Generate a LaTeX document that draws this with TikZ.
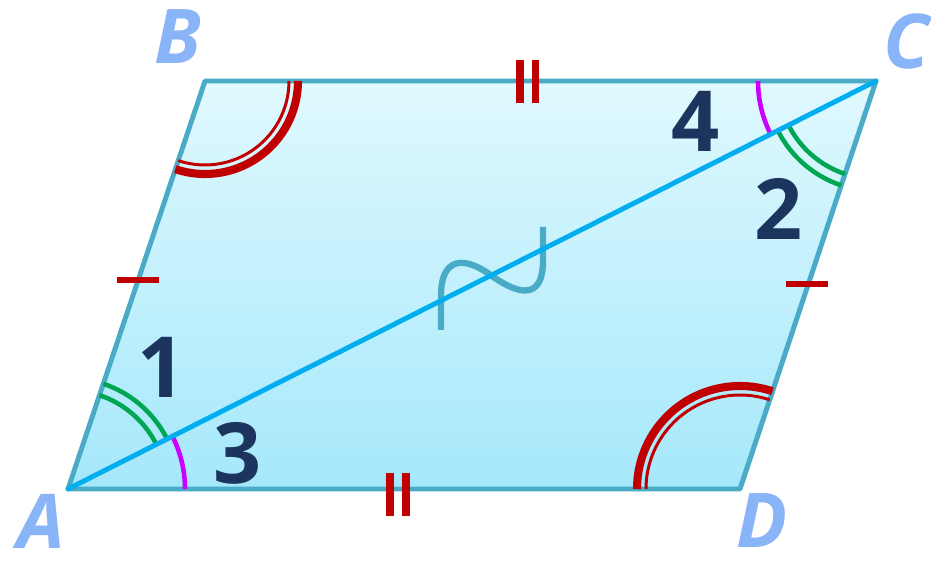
\documentclass[tikz,border=0pt]{standalone}
\usepackage{fontspec}
\newfontfamily\labelfont{Open Sans}
\usetikzlibrary{calc}

\definecolor{edgeblue}{HTML}{4AABC6}
\definecolor{diagblue}{HTML}{00AEEF}
\definecolor{filltop}{HTML}{E0F9FE}
\definecolor{fillbot}{HTML}{A5E8FB}
\definecolor{vertblue}{HTML}{8AB4F8}
\definecolor{numnavy}{HTML}{1C355E}
\definecolor{markred}{HTML}{C00000}
\definecolor{arcgreen}{HTML}{00A651}
\definecolor{arcmagenta}{HTML}{CC00FF}

\begin{document}
\begin{tikzpicture}[
  x=0.02cm, y=0.02cm,
  side/.style={draw=edgeblue, line width=2.8pt, line join=round},
  diag/.style={draw=diagblue, line width=2.8pt, line cap=round},
  simsign/.style={draw=edgeblue, line width=3.6pt},
  vlabel/.style={font=\labelfont\bfseries\itshape\fontsize{43}{43}\selectfont,
                 text=vertblue, inner sep=0pt},
  numlabel/.style={font=\labelfont\bfseries\fontsize{48}{48}\selectfont,
                   text=numnavy, inner sep=0pt},
  tickmark/.style={draw=markred, line width=4pt},
  greenarc/.style={draw=arcgreen, line width=2.6pt},
  pinkarc/.style={draw=arcmagenta, line width=2.6pt},
  thickarc/.style={draw=markred, line width=4.6pt},
  thinarc/.style={draw=markred, line width=1.7pt},
]
\useasboundingbox (0,0) rectangle (931,561);

% ── vertices ────────────────────────────────────────────────────────────────
\coordinate (A) at (68,72);
\coordinate (B) at (205,480);
\coordinate (C) at (876,480);
\coordinate (D) at (740,72);

% ── parallelogram body ──────────────────────────────────────────────────────
\shade[top color=filltop, bottom color=fillbot]
  (A) -- (B) -- (C) -- (D) -- cycle;
\draw[side] (A) -- (B) -- (C) -- (D) -- cycle;

% ── angle marks ─────────────────────────────────────────────────────────────
% angle 1 and angle 2 (double green)
\draw[greenarc] (A) ++(26.8:99)  arc[start angle=26.8, end angle=71.4, radius=99];
\draw[greenarc] (A) ++(26.8:111) arc[start angle=26.8, end angle=71.4, radius=111];
\draw[greenarc] (C) ++(206.8:98)  arc[start angle=206.8, end angle=251.6, radius=98];
\draw[greenarc] (C) ++(206.8:110) arc[start angle=206.8, end angle=251.6, radius=110];

% angle 3 and angle 4 (magenta)
\draw[pinkarc] (A) ++(0:117)   arc[start angle=0,   end angle=26.8,  radius=117];
\draw[pinkarc] (C) ++(180:118) arc[start angle=180, end angle=206.8, radius=118];

% angles B and D (red)
\draw[thickarc] (B) ++(251.4:93) arc[start angle=251.4, end angle=360, radius=93];
\draw[thinarc]  (B) ++(251.4:84) arc[start angle=251.4, end angle=360, radius=84];
\draw[thickarc] (D) ++(71.6:103) arc[start angle=71.6, end angle=180, radius=103];
\draw[thinarc]  (D) ++(71.6:94)  arc[start angle=71.6, end angle=180, radius=94];

% ── similarity sign and diagonal ────────────────────────────────────────────
\draw[simsign] (441,231) -- (441,265)
  .. controls (441,305) and (465,305) .. (492,285)
  .. controls (520,265) and (543,262) .. (543,300) -- (543,334);
\draw[diag] (A) -- (C);

% ── equal-side ticks ────────────────────────────────────────────────────────
\draw[tickmark] (520,501) -- (520,458);
\draw[tickmark] (535.5,501) -- (535.5,458);
\draw[tickmark] (390,88) -- (390,45);
\draw[tickmark] (406,88) -- (406,45);
\draw[tickmark, line width=3.5pt] (117,281) -- (159,281);
\draw[tickmark, line width=3.5pt] (786,277) -- (828,277);

% ── labels ──────────────────────────────────────────────────────────────────
\node[vlabel] (lA) at (41,40)   {A};
\node[vlabel] (lB) at (178,524) {B};
\node[vlabel] (lC) at (907,520) {C};
\node[vlabel] (lD) at (762,40)  {D};

\node[numlabel] (n1) at (162,194) {1};
\node[numlabel] (n2) at (779,352) {2};
\node[numlabel] (n3) at (238,108) {3};
\node[numlabel] (n4) at (696,440) {4};
\end{tikzpicture}
\end{document}
